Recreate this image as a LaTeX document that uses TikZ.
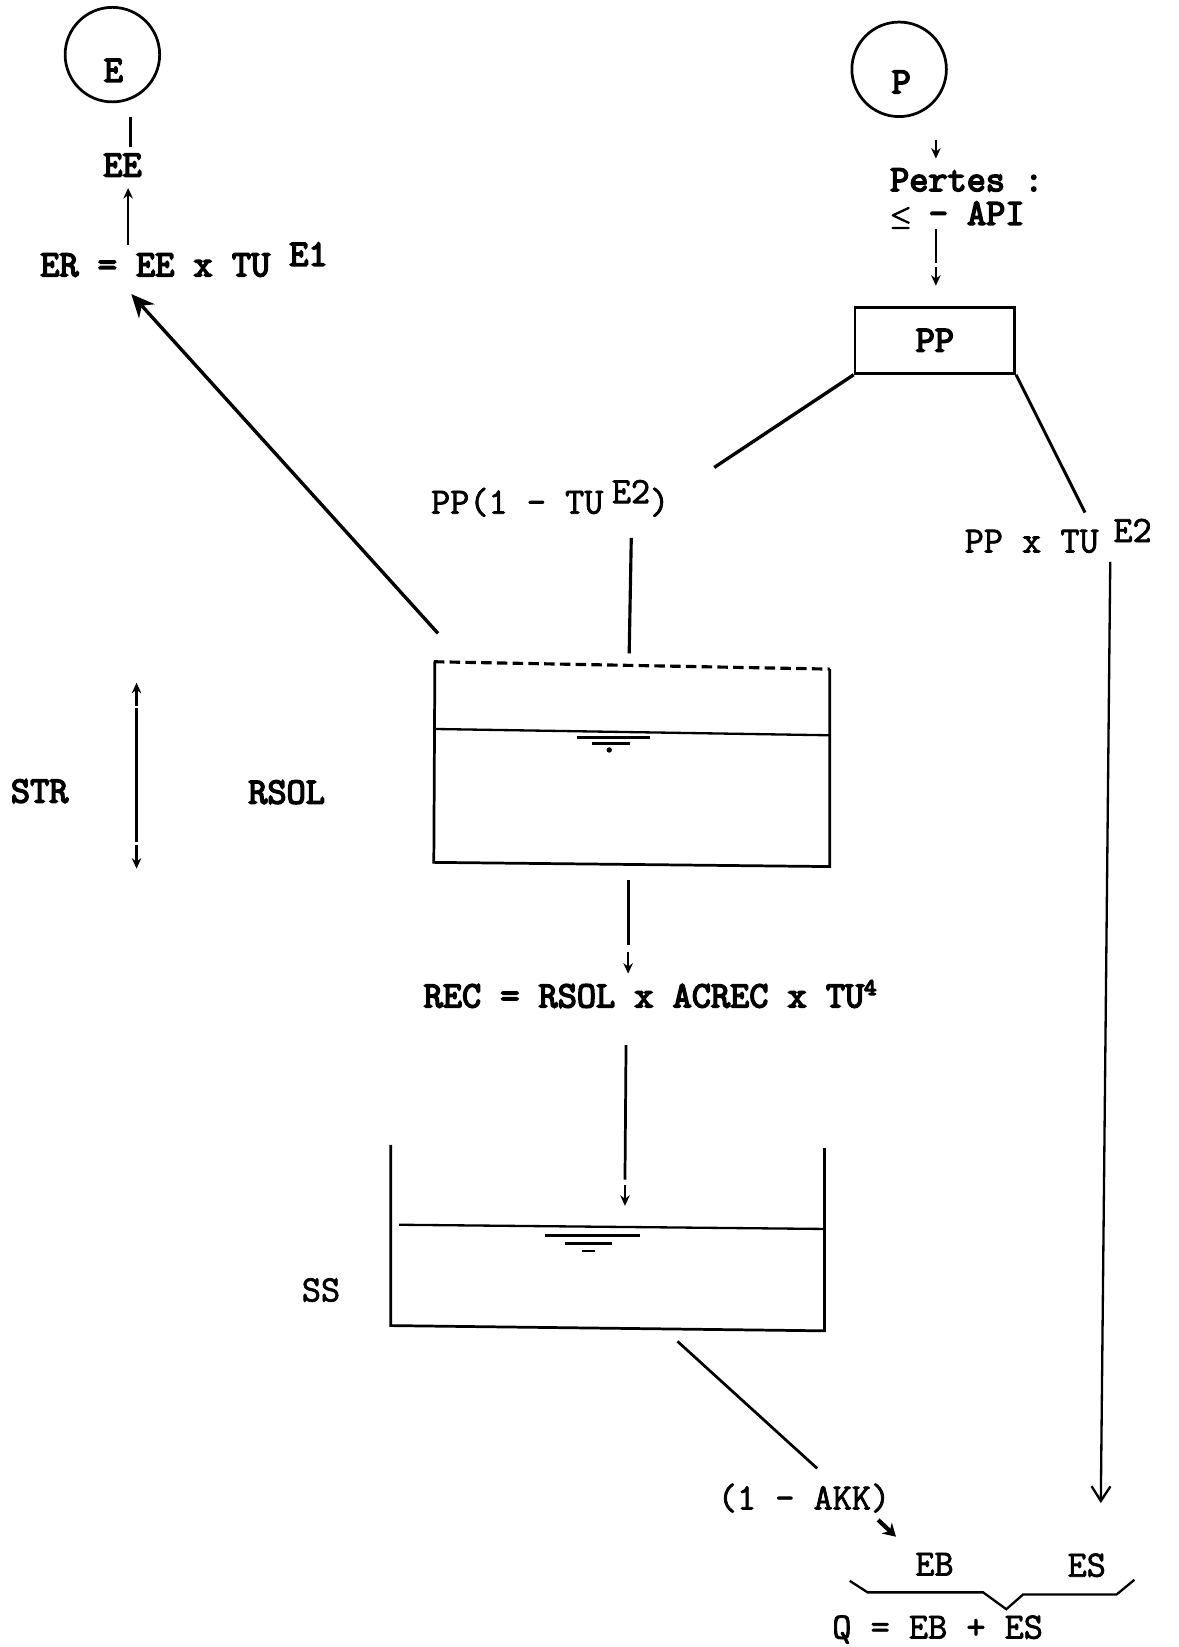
\documentclass[tikz,border=0pt]{standalone}
\usepackage{fontspec}
\newfontfamily\tw{Latin Modern Mono}
\newcommand\hvb[1]{\special{pdf:literal direct 2 Tr 0.75 w}#1\special{pdf:literal direct 0 Tr}}
\newcommand\hvr[1]{\special{pdf:literal direct 2 Tr 0.35 w}#1\special{pdf:literal direct 0 Tr}}
\usetikzlibrary{arrows.meta}
\begin{document}
\begin{tikzpicture}[x=0.5pt,y=-0.5pt,
  txt/.style={inner sep=0pt, anchor=base west, font=\fontsize{17.7}{20}\tw},
  ln/.style={line width=1.3pt},
  circ/.style={circle, draw, line width=1.3pt, minimum size=45pt, inner sep=0pt},
  sarrow/.style={line width=1.2pt, -{Stealth[length=5pt,width=4.5pt]}},
  bigarrow/.style={line width=1.6pt, -{Stealth[length=11pt,width=10pt]}},
  vee/.style={line width=1.1pt, -{Straight Barb[length=7pt,width=9pt]}}]
\useasboundingbox (0,0) rectangle (1122,1568);

% ---- E branch
\node[circ] (E) at (107,52) {};
\node[txt, anchor=center] (Elbl) at (108,67) {\hvb{E}};
\coordinate (e1) at (124,111); \coordinate (e2) at (124,140);
\draw[ln] (e1) -- (e2);
\node[txt] (EE) at (98,168) {\hvb{EE}};
\coordinate (e3) at (122,233); \coordinate (e4) at (122,179);
\draw[sarrow] (e3) -- (e4);
\node[txt] (ER) at (38,263) {\hvb{ER = EE x TU \raisebox{5pt}{E1}}};

% ---- P branch
\node[circ] (P) at (856,66) {};
\node[txt, anchor=center] (Plbl) at (858,78) {\hvb{P}};
\coordinate (p1) at (891,133); \coordinate (p2) at (891,151);
\draw[sarrow] (p1) -- (p2);
\node[txt, align=left, anchor=north west, font=\fontsize{17.7}{16}\tw] (Pertes) at (847,160)
  {\hvb{Pertes :}\\\hvb{\makebox[9.3pt][l]{\scalebox{0.75}{$\leq$}} - API}};
\coordinate (p3) at (891,218); \coordinate (p4) at (891,250);
\coordinate (p5) at (891,254); \coordinate (p6) at (891,272);
\draw[ln] (p3) -- (p4);
\draw[sarrow] (p5) -- (p6);
\node[draw, line width=1.3pt, minimum width=76pt, minimum height=31.5pt, inner sep=0pt,
      font=\fontsize{17.7}{20}\tw] (PP) at (890,324) {\hvb{PP}};
\coordinate (q1) at (680,445);
\coordinate (q2) at (1033,488);
\draw[line width=1.6pt] (PP.south west) -- (q1);
\draw[line width=1.4pt] (PP.south east) -- (q2);
\node[txt] (PP1) at (410,489) {\hvr{PP(1 - TU\hspace{4pt}\raisebox{5pt}{E2})}};
\node[txt] (PPx) at (918,526) {\hvr{PP x TU\hspace{7pt}\raisebox{5pt}{E2}}};

% ---- long right arrow
\coordinate (r1) at (1057,535); \coordinate (r2) at (1048,1431);
\draw[vee] (r1) -- (r2);

% ---- inflow to upper reservoir
\coordinate (u1) at (601,512); \coordinate (u2) at (599,622);
\draw[line width=1.5pt] (u1) -- (u2);

% ---- big arrow to ER
\coordinate (b1) at (417,603); \coordinate (b2) at (125,280);
\draw[bigarrow] (b1) -- (b2);

% ---- upper reservoir (RSOL)
\draw[line width=1.5pt, dash pattern=on 5pt off 2.5pt] (413,630) -- (790,637);
\draw[ln] (414,630) -- (413,821) -- (790,825) -- (790,637);
\draw[line width=1.1pt] (413,694) -- (790,700);
\draw[line width=1.6pt] (549,702) -- (619,702);
\draw[line width=1.3pt] (564,708) -- (600,708);
\fill (580,714) circle (1.3pt);

\node[txt] (STR) at (10,764) {\hvb{STR}};
\node[txt] (RSOL) at (236,765) {\hvb{RSOL}};
\coordinate (s1) at (130,672); \coordinate (s2) at (130,650);
\coordinate (s3) at (130,804); \coordinate (s4) at (130,827);
\draw[ln] (130,674) -- (130,802);
\draw[sarrow] (s1) -- (s2);
\draw[sarrow] (s3) -- (s4);

% ---- outflow to REC
\coordinate (d1) at (598,838); \coordinate (d2) at (598,900);
\coordinate (d3) at (598,906); \coordinate (d4) at (598,927);
\draw[ln] (d1) -- (d2);
\draw[sarrow] (d3) -- (d4);
\node[txt] (REC) at (403,959) {\hvb{REC = RSOL x ACREC x TU\raisebox{6pt}{\fontsize{11}{11}\selectfont 4}}};
\coordinate (f1) at (596,995); \coordinate (f2) at (595,1123);
\coordinate (f3) at (595,1128); \coordinate (f4) at (595,1148);
\draw[ln] (f1) -- (f2);
\draw[sarrow] (f3) -- (f4);

% ---- lower reservoir (SS)
\draw[ln] (372,1090) -- (372,1262) -- (785,1267) -- (785,1093);
\draw[line width=1.1pt] (380,1166) -- (785,1170);
\draw[line width=1.6pt] (519,1176) -- (609,1176);
\draw[line width=1.4pt] (538,1184) -- (583,1184);
\draw[line width=1.4pt] (554,1191) -- (566,1191);
\node[txt] (SS) at (287,1239) {\hvr{SS}};

% ---- outflow
\coordinate (o1) at (645,1277); \coordinate (o2) at (778,1398);
\draw[line width=1.3pt] (o1) -- (o2);
\node[txt] (AKK) at (683,1437) {\hvr{(1 - AKK)}};
\coordinate (o3) at (836,1447); \coordinate (o4) at (853,1463);
\draw[line width=2pt, -{Stealth[length=6pt,width=7pt]}] (o3) -- (o4);

% ---- sum
\node[txt] (EB) at (871,1500) {\hvr{EB}};
\node[txt] (ES) at (1016,1501) {\hvr{ES}};
\draw[line width=1.1pt] (809,1505) -- (826,1516) -- (936,1516) -- (958,1532) -- (974,1518) -- (1063,1518) -- (1080,1504);
\node[txt] (Q) at (792,1560) {\hvr{Q = EB + ES}};
\end{tikzpicture}
\end{document}
